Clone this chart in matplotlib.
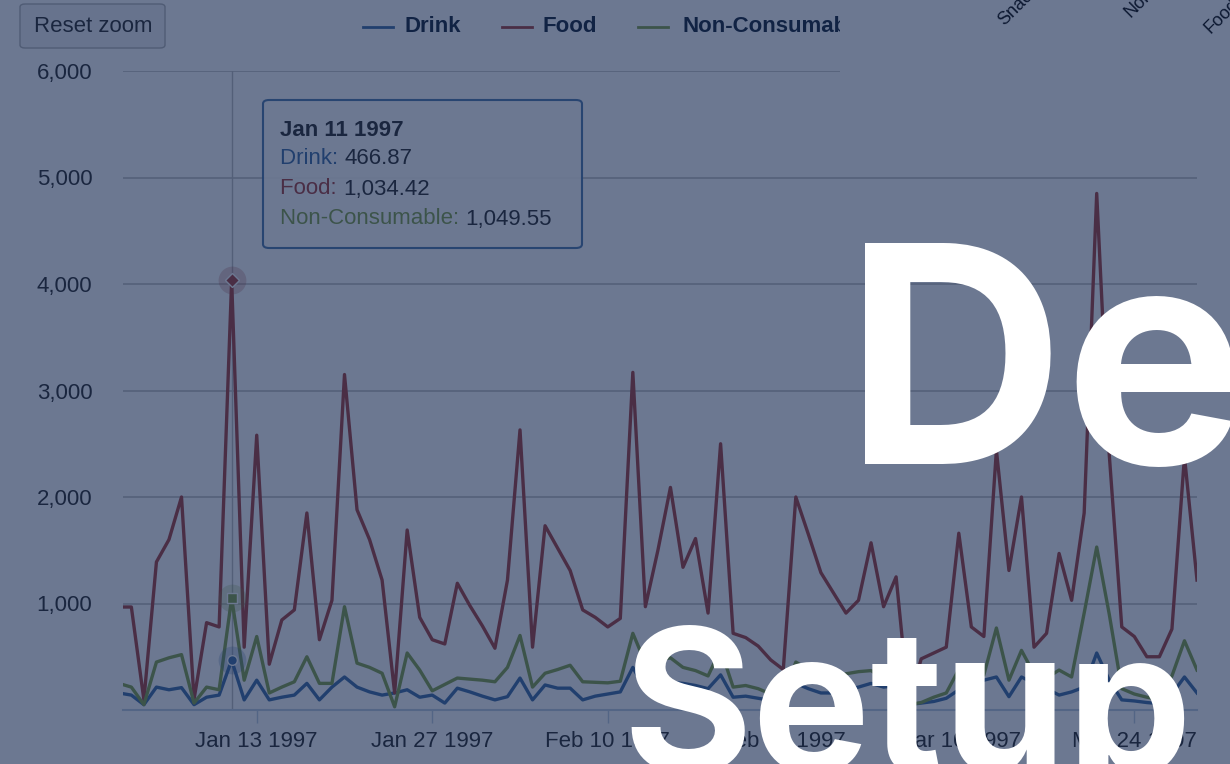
import matplotlib
matplotlib.use("Agg")
import matplotlib.pyplot as plt
from matplotlib.patches import Rectangle, FancyBboxPatch
from matplotlib.lines import Line2D
from matplotlib.ticker import FuncFormatter
import pandas as pd

plt.rcParams["font.family"] = ["Liberation Sans", "DejaVu Sans"]

# 日別の売上 (1997-01-02 から)
start_date = "1997-01-02"
series_names = ["Drink", "Food", "Non-Consumable"]
series_colors = ["#4572A7", "#AA4643", "#89A54E"]
series_markers = ["o", "D", "s"]

drink = [160, 140, 50, 215, 190, 210, 50, 120, 140, 467,
         95, 280, 95, 120, 140, 250, 95, 215, 310, 215,
         170, 140, 160, 190, 120, 140, 65, 205, 170, 130,
         95, 125, 300, 95, 235, 205, 205, 95, 130, 150,
         170, 400, 190, 230, 260, 250, 230, 200, 330, 120,
         130, 110, 90, 80, 250, 200, 160, 160, 190, 215,
         250, 215, 230, 50, 65, 80, 110, 190, 230, 280,
         310, 125, 310, 250, 200, 140, 170, 215, 535, 280,
         95, 85, 70, 60, 150, 310, 160]
food = [967, 967, 95, 1390, 1600, 2000, 100, 820, 780, 4034,
        590, 2580, 430, 845, 940, 1850, 660, 1030, 3150, 1880,
        1600, 1220, 160, 1690, 870, 660, 620, 1190, 980, 790,
        580, 1220, 2630, 590, 1730, 1520, 1310, 940, 870, 780,
        860, 3170, 970, 1500, 2090, 1340, 1610, 910, 2500, 720,
        680, 600, 470, 380, 2000, 1650, 1290, 1100, 910, 1030,
        1570, 970, 1250, 60, 480, 535, 590, 1660, 780, 690,
        2440, 1310, 2000, 590, 720, 1470, 1030, 1850, 4850, 2400,
        780, 690, 500, 500, 760, 2380, 1220]
non_consumable = [250, 215, 50, 450, 490, 520, 65, 215, 190, 1050,
                  280, 690, 160, 215, 265, 500, 250, 250, 970, 440,
                  400, 345, 30, 535, 375, 180, 240, 300, 290, 280,
                  265, 400, 700, 215, 345, 380, 420, 265, 260, 255,
                  270, 720, 440, 470, 490, 400, 370, 320, 570, 215,
                  230, 200, 150, 130, 450, 380, 330, 300, 340, 360,
                  370, 300, 320, 50, 70, 120, 160, 380, 300, 330,
                  770, 280, 560, 340, 300, 375, 310, 910, 1530, 900,
                  200, 150, 120, 100, 320, 650, 375]

tick_dates = ["1997-01-13", "1997-01-27", "1997-02-10", "1997-02-24",
              "1997-03-10", "1997-03-24"]
tick_labels = ["Jan 13 1997", "Jan 27 1997", "Feb 10 1997", "Feb 24 1997",
               "Mar 10 1997", "Mar 24 1997"]
y_ticks = [1000, 2000, 3000, 4000, 5000, 6000]

hover_date = "1997-01-11"
tooltip_title = "Jan 11 1997"
tooltip_values = ["466.87", "1,034.42", "1,049.55"]

side_labels = ["Snacks", "Non-Consumable", "Food"]

W, H = 1230, 764
fig = plt.figure(figsize=(W / 100, H / 100), dpi=100, facecolor="white")


def px(x, y):
    return (x / W, 1 - y / H)


ax = fig.add_axes([123 / W, 1 - 710 / H, (1197 - 123) / W, (710 - 71) / H])
ax.set_facecolor("white")

dates = pd.date_range(start_date, periods=len(food), freq="D")
all_series = [drink, food, non_consumable]
for name, vals, col in zip(series_names, all_series, series_colors):
    ax.plot(dates, vals, color=col, lw=2.4, solid_joinstyle="round", zorder=3)

# クロスヘア + ホバー点
hd = pd.Timestamp(hover_date)
hi = list(dates).index(hd)
ax.axvline(hd, color="#C0C0C0", lw=1, zorder=2)
for vals, col, mk in zip(all_series, series_colors, series_markers):
    ax.plot([hd], [vals[hi]], marker="o", ms=20, color=col, alpha=0.25,
            mec="none", zorder=4)
    ax.plot([hd], [vals[hi]], marker=mk, ms=7, color=col, mec="white",
            mew=1, zorder=5)

ax.set_xlim(dates[0] + pd.Timedelta(hours=8), dates[-1])
ax.set_ylim(0, 6000)
ax.set_yticks(y_ticks)
ax.yaxis.set_major_formatter(FuncFormatter(lambda v, p: f"{v:,.0f}"))
ax.set_xticks(pd.to_datetime(tick_dates))
ax.set_xticklabels(tick_labels)
ax.grid(axis="y", color="#C0C0C0", lw=1.1, zorder=1)
for s in ["top", "right", "left"]:
    ax.spines[s].set_visible(False)
ax.spines["bottom"].set_color("#C0D0E0")
ax.spines["bottom"].set_linewidth(1.5)
ax.tick_params(axis="x", length=9, width=1, color="#C0D0E0", pad=6,
               labelsize=16, labelcolor="#333333")
ax.tick_params(axis="y", length=0, pad=22, labelsize=16, labelcolor="#333333")

# Reset zoom ボタン
fig.add_artist(FancyBboxPatch(px(20, 48), 145 / W, 44 / H,
                              boxstyle="round,pad=0,rounding_size=0.004",
                              transform=fig.transFigure, facecolor="#f4f4f4",
                              edgecolor="#b8b8b8", lw=1, zorder=5))
fig.text(*px(93, 27), "Reset zoom", ha="center", va="center", fontsize=16,
         color="#333333", zorder=6)

# 凡例
leg_x = [(363, 393, 405), (502, 532, 543), (638, 668, 682)]
for (x0, x1, tx), name, col in zip(leg_x, series_names, series_colors):
    fig.add_artist(Line2D([x0 / W, x1 / W], [1 - 27 / H] * 2, color=col, lw=2,
                          transform=fig.transFigure, zorder=6))
    fig.text(*px(tx, 27), name, ha="left", va="center", fontsize=16,
             fontweight="bold", color="#1c2b40", zorder=6)

# 右上の別パネル部分
fig.add_artist(Rectangle(px(840, 75), (W - 840) / W, 75 / H,
                         transform=fig.transFigure, facecolor="white",
                         edgecolor="none", zorder=10))
for (x, y), lab in zip([(1004, 26), (1130, 18), (1210, 34)], side_labels):
    fig.text(*px(x, y), lab, rotation=45, rotation_mode="anchor", ha="left",
             va="baseline", fontsize=13, color="#111111", zorder=11)

# ツールチップ
fig.add_artist(FancyBboxPatch(px(263, 248), (582 - 263) / W, (248 - 100) / H,
                              boxstyle="round,pad=0,rounding_size=0.005",
                              transform=fig.transFigure, facecolor="white",
                              alpha=0.9, edgecolor=series_colors[0], lw=1.5,
                              zorder=12))
fig.text(*px(280, 130), tooltip_title, ha="left", va="center", fontsize=16,
         fontweight="bold", color="#333333", zorder=13)
for i, (name, col, val) in enumerate(zip(series_names, series_colors,
                                         tooltip_values)):
    y = 159 + i * 30
    t = fig.text(*px(280, y), name + ": ", ha="left", va="center",
                 fontsize=16, color=col, zorder=13)
    fig.canvas.draw()
    bb = t.get_window_extent()
    fig.text(bb.x1 / W, 1 - y / H, val, ha="left", va="center", fontsize=16,
             color="#333333", zorder=13)

# 全体を暗くするオーバーレイ
fig.add_artist(Rectangle((0, 0), 1, 1, transform=fig.transFigure,
                         facecolor=(10 / 255, 30 / 255, 72 / 255), alpha=0.6,
                         edgecolor="none", zorder=50))

big = ["Inter", "Liberation Sans", "DejaVu Sans"]
fig.text(*px(845, 464), "De", ha="left", va="baseline", fontsize=219,
         fontweight="bold", family=big, color="white", zorder=60)
fig.text(*px(622, 772), "Setup", ha="left", va="baseline", fontsize=143,
         fontweight="bold", family=big, color="white", zorder=60)

fig.savefig("out.png", dpi=100)
